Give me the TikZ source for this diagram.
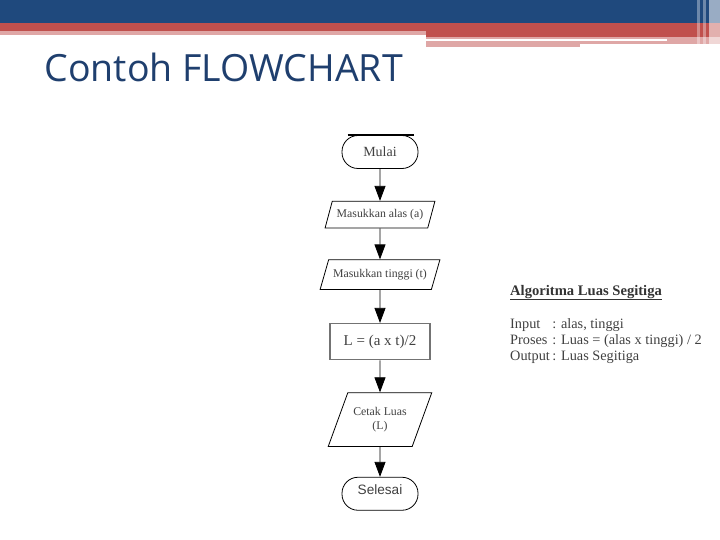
\documentclass[tikz,border=0pt]{standalone}
\usepackage{fontspec}
\setmainfont{Liberation Serif}
\newfontfamily\slidefont{Open Sans}
\newfontfamily\arialfont{Liberation Sans}
\usepackage{xcolor}
\usetikzlibrary{arrows.meta,positioning,shapes.geometric}

\definecolor{bandblue}{HTML}{1F497D}
\definecolor{bandred}{HTML}{C0504D}
\definecolor{bandpink}{HTML}{DFA7A6}
\definecolor{titleblue}{HTML}{1F3F6E}

\begin{document}
\begin{tikzpicture}[x=1pt, y=-1pt,
    term/.style={draw, line width=0.8pt, rounded corners=16pt, minimum width=76pt, minimum height=33pt, text=black!75, font=\fontsize{14}{16}\selectfont},
    io/.style={draw, line width=0.8pt, trapezium, align=center, text=black!75, font=\fontsize{11.8}{14}\selectfont},
    proc/.style={draw=black!55, line width=1.4pt, minimum width=100pt, minimum height=36pt, text=black!75, font=\fontsize{15}{17}\selectfont},
    arrow/.style={line width=0.8pt, -{Triangle[length=15pt, width=11pt]}},
    node distance=32pt
]
\useasboundingbox (0,0) rectangle (720,540);

% slide header bands
\fill[bandblue] (0,0) rectangle (720,23);
\fill[bandred] (0,23) rectangle (720,31);
\fill[bandpink] (0,31) rectangle (426,35);
\fill[bandred] (426,31) rectangle (720,37);
\fill[bandpink] (426,37) rectangle (580,47);
\fill[bandpink] (580,37) rectangle (720,44);
\fill[white] (426,39) rectangle (667,41);
\fill[white, opacity=0.35] (697,0) rectangle (700,47);
\fill[white, opacity=0.35] (703,0) rectangle (706,47);
\fill[white, opacity=0.55] (709,0) rectangle (720,47);

\node[anchor=west, text=titleblue, font=\slidefont\fontsize{37.5}{40}\selectfont] (title) at (41,67) {Contoh FLOWCHART};

% flowchart
\node[term] (mulai) at (380,152) {Mulai};
\node[io, trapezium left angle=75, trapezium right angle=105, inner xsep=4.5pt, inner ysep=8pt, below=32pt of mulai] (alas) {Masukkan alas (a)};
\node[io, trapezium left angle=74, trapezium right angle=106, inner xsep=4.5pt, inner ysep=9.5pt, below=31pt of alas] (tinggi) {Masukkan tinggi (t)};
\node[proc, below=33pt of tinggi] (rumus) {L = (a x t)/2};
\node[io, trapezium left angle=70, trapezium right angle=110, inner xsep=5.5pt, inner ysep=14.5pt, below=32pt of rumus] (cetak) {Cetak Luas\\(L)};
\node[term, text depth=9pt, font=\arialfont\fontsize{13.6}{15}\selectfont, below=30pt of cetak] (selesai) {Selesai};

\draw[line width=1.6pt] ([xshift=6pt]mulai.north west) -- ([xshift=-4pt]mulai.north east);

\draw[arrow] (mulai) -- (alas);
\draw[arrow] (alas) -- (tinggi);
\draw[arrow] (tinggi) -- (rumus);
\draw[arrow] (rumus) -- (cetak);
\draw[arrow] (cetak) -- (selesai);

% algorithm text
\node[anchor=base west, inner sep=0pt, text=black!80, font=\fontsize{14.6}{16}\selectfont] (algo) at (510,295) {\underline{\textbf{Algoritma Luas Segitiga}}};
\node[below=17pt of algo.south west, anchor=north west, inner sep=0pt, text=black!75, font=\fontsize{14.3}{16}\selectfont] (info) {%
  \begin{tabular}{@{}l@{\,}l@{}}
  Input  & : alas, tinggi\\
  Proses & : Luas = (alas x tinggi) / 2\\
  Output & : Luas Segitiga
  \end{tabular}};
\end{tikzpicture}
\end{document}
